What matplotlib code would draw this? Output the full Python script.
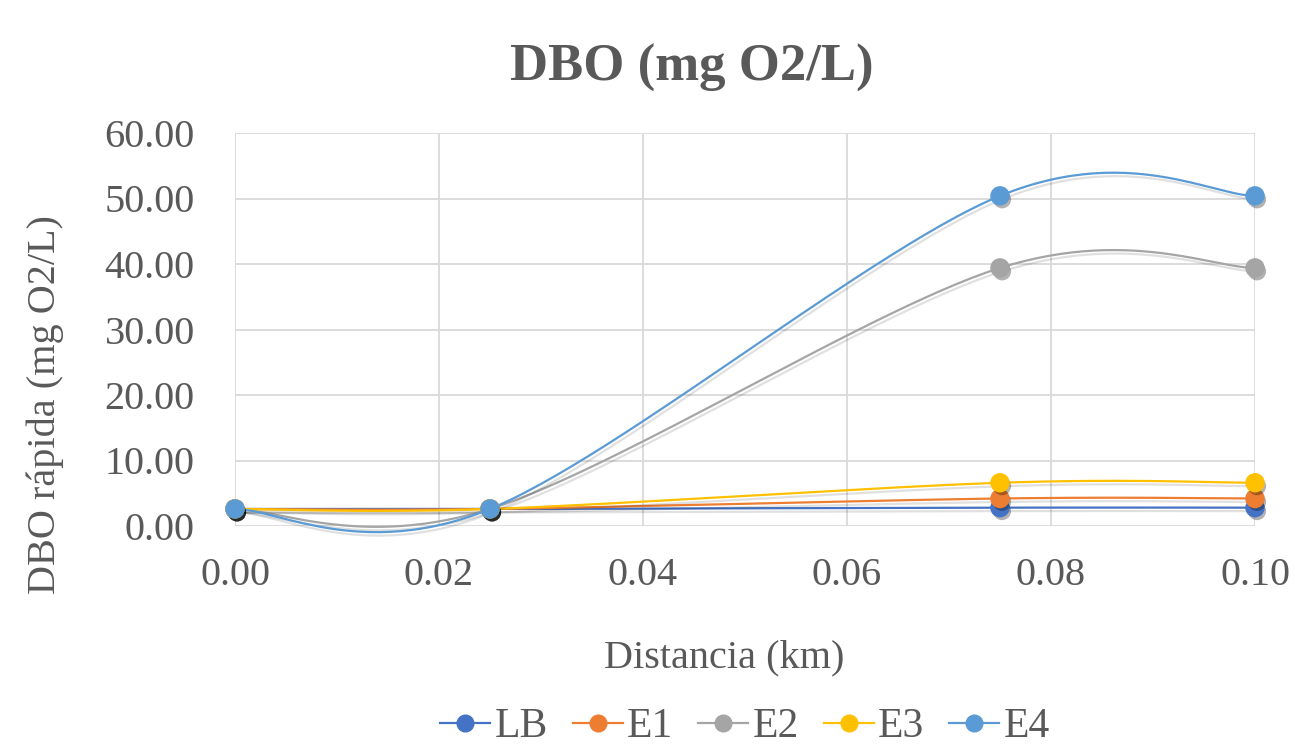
import numpy as np
import matplotlib
matplotlib.use("Agg")
import matplotlib.pyplot as plt
import matplotlib.patheffects as pe
from matplotlib.lines import Line2D

# distancias de muestreo (km) y DBO por estación
distancia = [0.0, 0.025, 0.075, 0.1]
series = ["LB", "E1", "E2", "E3", "E4"]
dbo_lb = [2.6, 2.6, 2.8, 2.8]
dbo_e1 = [2.6, 2.6, 4.2, 4.2]
dbo_e2 = [2.6, 2.6, 39.4, 39.4]
dbo_e3 = [2.6, 2.6, 6.6, 6.6]
dbo_e4 = [2.6, 2.6, 50.4, 50.4]
colores = ["#4472C4", "#ED7D31", "#A5A5A5", "#FFC000", "#5B9BD5"]
y_ticks = [0, 10, 20, 30, 40, 50, 60]
x_ticks = [0.0, 0.02, 0.04, 0.06, 0.08, 0.10]

TXT = "#595959"
GRID = "#D9D9D9"
plt.rcParams["font.family"] = ["Liberation Serif", "DejaVu Serif"]


def suavizar(x, y, n=60):
    """Curva suavizada tipo Excel (Bezier con tangentes Catmull-Rom)."""
    p = np.column_stack([x, y]).astype(float)
    p = np.vstack([p[0], p, p[-1]])
    xs, ys = [], []
    t = np.linspace(0, 1, n)[:, None]
    for i in range(1, len(p) - 2):
        p0, p1, p2, p3 = p[i - 1], p[i], p[i + 1], p[i + 2]
        c1 = p1 + (p2 - p0) / 6
        c2 = p2 - (p3 - p1) / 6
        b = ((1 - t) ** 3) * p1 + 3 * ((1 - t) ** 2) * t * c1 \
            + 3 * (1 - t) * t ** 2 * c2 + t ** 3 * p2
        xs.extend(b[:, 0])
        ys.extend(b[:, 1])
    return np.array(xs), np.array(ys)


fig = plt.figure(figsize=(12.95, 7.5), dpi=100)
ax = fig.add_axes([235 / 1295, 1 - 526 / 750, 1020 / 1295, 393 / 750])

sombra = [pe.SimpleLineShadow(offset=(1.5, -2.5), shadow_color="black", alpha=0.12),
          pe.Normal()]
sombra_marca = [pe.SimplePatchShadow(offset=(1.5, -2.5), shadow_rgbFace="black", alpha=0.3),
                pe.Normal()]

datos = [dbo_lb, dbo_e1, dbo_e2, dbo_e3, dbo_e4]
for nombre, vals, col in zip(series, datos, colores):
    xs, ys = suavizar(distancia, vals)
    ax.plot(xs, ys, color=col, lw=1.6, clip_on=False, path_effects=sombra, zorder=3)
    ax.plot(distancia, vals, ls="none", marker="o", ms=13, color=col,
            clip_on=False, path_effects=sombra_marca, zorder=4)

ax.set_xlim(0, 0.1)
ax.set_ylim(0, 60)
ax.set_xticks(x_ticks)
ax.set_yticks(y_ticks)
ax.set_xticklabels([f"{v:.2f}" for v in x_ticks])
ax.set_yticklabels([f"{v:.2f}" for v in y_ticks])
ax.tick_params(length=0, labelsize=29, colors=TXT)
ax.tick_params(axis="y", pad=29)
ax.tick_params(axis="x", pad=22)
ax.grid(True, color=GRID, lw=1.3)
ax.set_axisbelow(True)
for s in ax.spines.values():
    s.set_visible(False)

fig.text(692 / 1295, 1 - 68 / 750, "DBO (mg O2/L)", ha="center", va="center",
         fontsize=38, fontweight="bold", color=TXT)
fig.text(724 / 1295, 1 - 658 / 750, "Distancia (km)", ha="center", va="center",
         fontsize=29, color=TXT)
fig.text(45 / 1295, 1 - 405 / 750, "DBO rápida (mg O2/L)", ha="center", va="center",
         rotation=90, fontsize=29, color=TXT)

handles = [Line2D([], [], color=c, lw=1.6, marker="o", ms=12) for c in colores]
leg = fig.legend(handles, series, loc="center", bbox_to_anchor=(745 / 1295, 1 - 727 / 750),
                 ncol=5, frameon=False, fontsize=30, handlelength=1.2, handletextpad=0.1,
                 columnspacing=0.6, labelcolor=TXT)

fig.savefig("out.png", dpi=100)
